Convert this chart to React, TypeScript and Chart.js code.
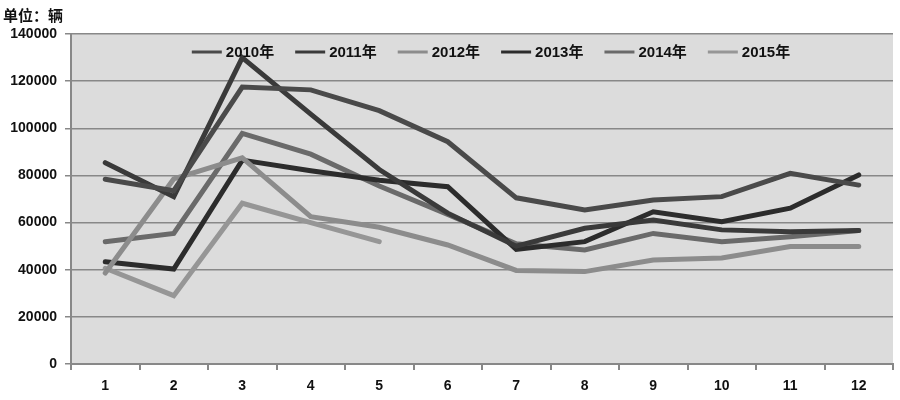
import React, { useEffect, useRef } from "react";
import { Chart, registerables } from "chart.js";

Chart.register(...registerables);

const months = ["1", "2", "3", "4", "5", "6", "7", "8", "9", "10", "11", "12"];
const yearLabels = ["2010年", "2011年", "2012年", "2013年", "2014年", "2015年"];
const sales2010 = [78400, 73500, 117500, 116300, 107500, 94300, 70500, 65300, 69600, 71000, 80900, 75900];
const sales2011 = [85400, 71000, 130000, 106000, 82500, 64000, 50000, 57600, 61100, 56900, 56100, 56600];
const sales2012 = [38600, 78500, 87500, 62500, 58000, 50500, 39700, 39200, 44100, 45000, 49800, 49800];
const sales2013 = [43400, 40300, 86500, 82000, 78000, 75200, 48600, 51900, 64600, 60400, 66100, 80200];
const sales2014 = [51900, 55400, 97800, 89000, 75500, 63500, 51000, 48400, 55400, 51900, 54000, 56600];
const sales2015 = [40600, 29000, 68200, 60000, 51900];
const lineColors = ["#4a4a4a", "#3a3a3a", "#8c8c8c", "#2c2c2c", "#6a6a6a", "#969696"];

const plotBg = {
  id: "plotBg",
  beforeDraw(chart: any) {
    const { ctx, chartArea } = chart;
    ctx.save();
    ctx.fillStyle = "#dcdcdc";
    ctx.fillRect(chartArea.left, chartArea.top, chartArea.right - chartArea.left, chartArea.bottom - chartArea.top);
    ctx.restore();
  },
};

const innerLegend = {
  id: "innerLegend",
  afterDatasetsDraw(chart: any) {
    const { ctx, chartArea } = chart;
    const sample = 30;
    const gap = 4;
    const itemGap = 21;
    ctx.save();
    ctx.font = "bold 15px 'Liberation Sans', 'Noto Sans CJK SC', sans-serif";
    const ds = chart.data.datasets;
    const widths = ds.map((d: any) => sample + gap + ctx.measureText(d.label).width);
    const total = widths.reduce((a: number, b: number) => a + b, 0) + itemGap * (ds.length - 1);
    let x = (chartArea.left + chartArea.right) / 2 + 9 - total / 2;
    const y = chartArea.top + 18;
    ds.forEach((d: any, i: number) => {
      ctx.strokeStyle = d.borderColor;
      ctx.lineWidth = 3;
      ctx.beginPath();
      ctx.moveTo(x, y);
      ctx.lineTo(x + sample, y);
      ctx.stroke();
      ctx.fillStyle = "#111";
      ctx.textBaseline = "middle";
      ctx.textAlign = "left";
      ctx.fillText(d.label, x + sample + gap, y + 1);
      x += widths[i] + itemGap;
    });
    ctx.restore();
  },
};

export default function App() {
  const ref = useRef<HTMLCanvasElement | null>(null);
  useEffect(() => {
    if (!ref.current) return;
    const series = [sales2010, sales2011, sales2012, sales2013, sales2014, sales2015];
    const chart = new Chart(ref.current, {
      type: "line",
      data: {
        labels: months,
        datasets: series.map((d, i) => ({
          label: yearLabels[i],
          data: d,
          borderColor: lineColors[i],
          backgroundColor: lineColors[i],
          borderWidth: 5,
          pointRadius: 0,
          tension: 0,
          borderCapStyle: "round" as const,
          borderJoinStyle: "miter" as const,
        })),
      },
      options: {
        animation: false,
        responsive: true,
        maintainAspectRatio: false,
        layout: { padding: { left: 3, top: 4, right: 7, bottom: 0 } },
        plugins: {
          title: {
            display: true,
            text: "单位：辆",
            align: "start",
            color: "#111",
            font: { size: 15, weight: "bold", family: "'Noto Sans CJK SC', 'Liberation Sans', sans-serif" },
            padding: { top: 2, bottom: 10 },
          },
          legend: { display: false },
          tooltip: { enabled: false },
        },
        scales: {
          x: {
            offset: true,
            afterFit: (s: any) => { s.height = 36; },
            grid: { offset: true, drawOnChartArea: false, drawTicks: true, tickLength: 6, color: "#888", lineWidth: 2 },
            border: { color: "#888", width: 2 },
            ticks: { color: "#111", padding: 8, font: { size: 14, weight: "bold", family: "'Liberation Sans', sans-serif" } },
          },
          y: {
            min: 0,
            max: 140000,
            afterFit: (s: any) => { s.width = 68; },
            grid: { color: "#888", lineWidth: 1.5, tickLength: 6 },
            border: { color: "#888", width: 2 },
            ticks: {
              stepSize: 20000,
              color: "#111",
              padding: 8,
              callback: (v: any) => String(v),
              font: { size: 14, weight: "bold", family: "'Liberation Sans', sans-serif" },
            },
          },
        },
      },
      plugins: [plotBg, innerLegend],
    });
    return () => chart.destroy();
  }, []);
  return (
    <div style={{ position: "fixed", left: 0, top: 0, width: 900, height: 400, background: "#fff" }}>
      <canvas ref={ref} />
    </div>
  );
}
